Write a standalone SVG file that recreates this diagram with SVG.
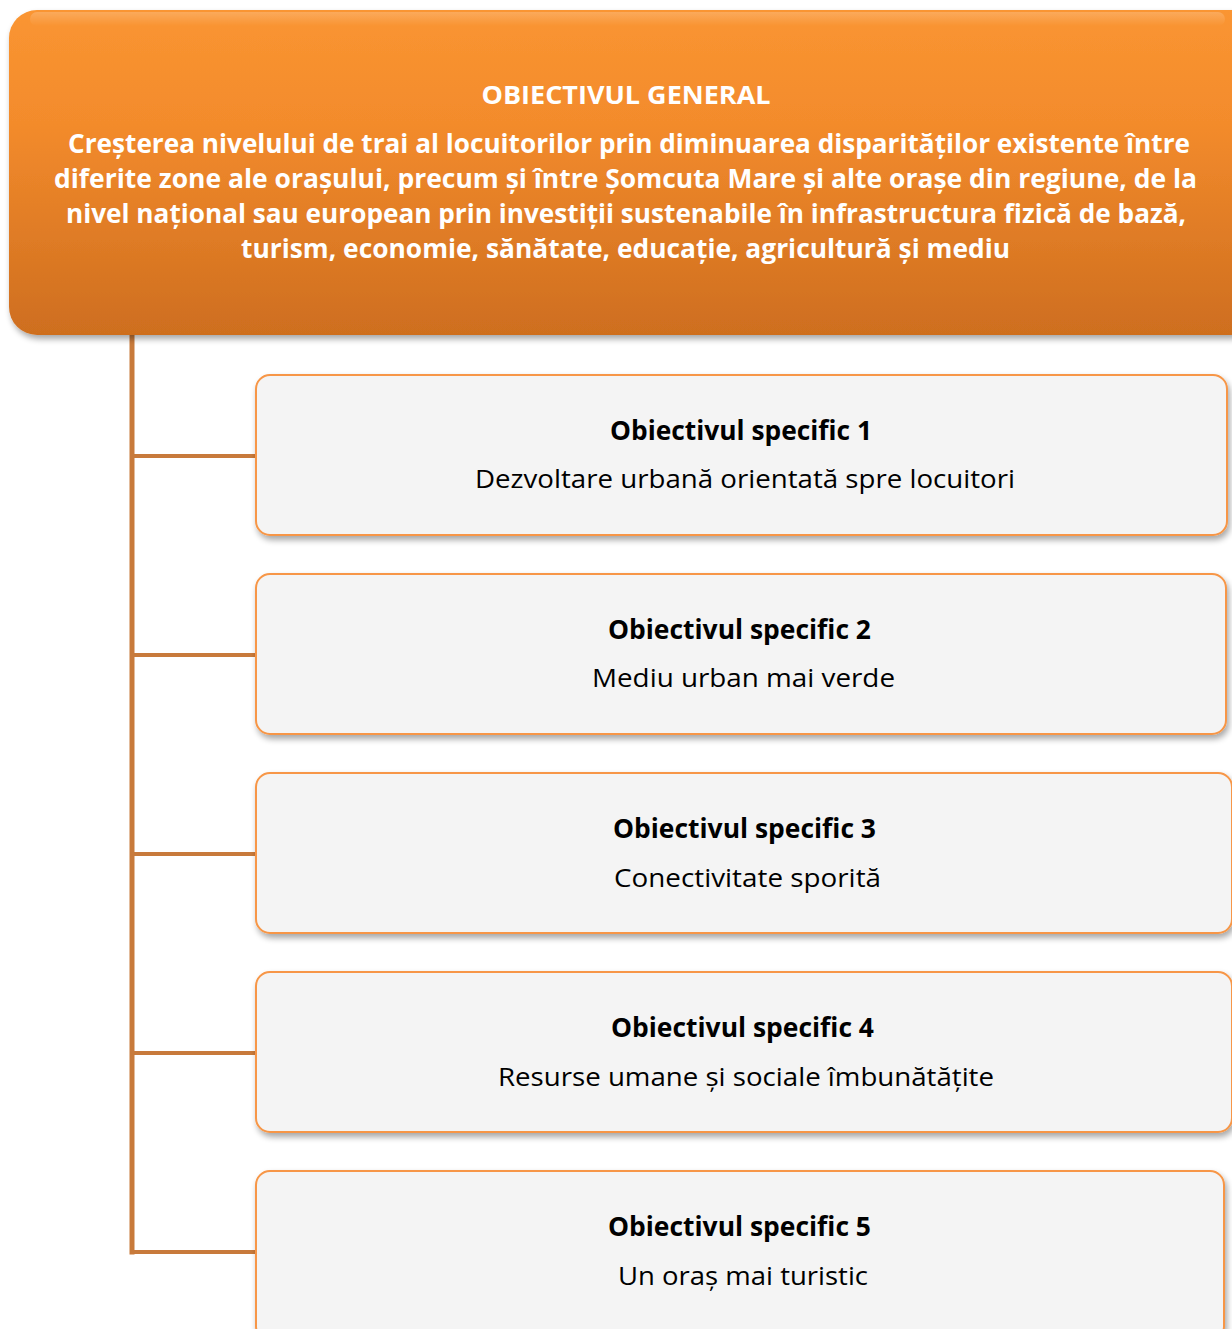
<svg xmlns="http://www.w3.org/2000/svg" width="1232" height="1329" viewBox="0 0 1232 1329">
<defs>
<linearGradient id="og" x1="0" y1="0" x2="0" y2="1">
<stop offset="0" stop-color="#FA9531"/>
<stop offset="0.35" stop-color="#F38B2C"/>
<stop offset="1" stop-color="#CE6E1F"/>
</linearGradient>
<linearGradient id="hl" x1="0" y1="0" x2="0" y2="1">
<stop offset="0" stop-color="#FFFFFF" stop-opacity="0.2"/>
<stop offset="1" stop-color="#FFFFFF" stop-opacity="0"/>
</linearGradient>
<filter id="sh" x="-5%" y="-5%" width="110%" height="120%">
<feGaussianBlur in="SourceAlpha" stdDeviation="3"/>
<feOffset dx="2" dy="4" result="b"/>
<feComponentTransfer><feFuncA type="linear" slope="0.35"/></feComponentTransfer>
<feMerge><feMergeNode/><feMergeNode in="SourceGraphic"/></feMerge>
</filter>
</defs>
<style>
.conn{stroke:#C87A3B;fill:none;stroke-linecap:square}
.child{fill:#F4F4F4;stroke:#F79646;stroke-width:2}
.gt{font-family:"Open Sans","Liberation Sans",sans-serif;font-weight:bold;fill:#FFFFFF;text-anchor:middle}
.ct{font-family:"Open Sans","Liberation Sans",sans-serif;font-weight:bold;fill:#000000;text-anchor:middle;font-size:26px}
.cs{font-family:"Open Sans","Liberation Sans",sans-serif;fill:#000000;text-anchor:middle;font-size:26px}
</style>
<rect width="1232" height="1329" fill="#FFFFFF"/>
<g id="connectors">
<line class="conn" x1="132" y1="336" x2="132" y2="1252" stroke-width="5"/>
<line class="conn" x1="132" y1="456" x2="255" y2="456" stroke-width="4"/>
<line class="conn" x1="132" y1="655" x2="255" y2="655" stroke-width="4"/>
<line class="conn" x1="132" y1="854" x2="255" y2="854" stroke-width="4"/>
<line class="conn" x1="132" y1="1053" x2="255" y2="1053" stroke-width="4"/>
<line class="conn" x1="132" y1="1252" x2="255" y2="1252" stroke-width="4"/>
</g>
<g id="general">
<rect x="9" y="10" width="1250" height="325" rx="28" fill="url(#og)" filter="url(#sh)"/>
<rect x="30" y="12" width="1195" height="14" rx="7" fill="url(#hl)"/>
<text class="gt" x="626" y="104" font-size="25" textLength="289" lengthAdjust="spacingAndGlyphs">OBIECTIVUL GENERAL</text>
<text class="gt" x="629" y="153" font-size="27" textLength="1122" lengthAdjust="spacingAndGlyphs">Creșterea nivelului de trai al locuitorilor prin diminuarea disparităților existente între</text>
<text class="gt" x="625.5" y="188" font-size="27" textLength="1143" lengthAdjust="spacingAndGlyphs">diferite zone ale orașului, precum și între Șomcuta Mare și alte orașe din regiune, de la</text>
<text class="gt" x="626" y="223" font-size="27" textLength="1120" lengthAdjust="spacingAndGlyphs">nivel național sau european prin investiții sustenabile în infrastructura fizică de bază,</text>
<text class="gt" x="625.5" y="258" font-size="27" textLength="769" lengthAdjust="spacingAndGlyphs">turism, economie, sănătate, educație, agricultură și mediu</text>
</g>
<g id="os1">
<rect class="child" x="256" y="375" width="971" height="160" rx="14" filter="url(#sh)"/>
<text class="ct" x="741" y="440" textLength="262" lengthAdjust="spacingAndGlyphs">Obiectivul specific 1</text>
<text class="cs" x="745" y="488" textLength="540" lengthAdjust="spacingAndGlyphs">Dezvoltare urbană orientată spre locuitori</text>
</g>
<g id="os2">
<rect class="child" x="256" y="574" width="970" height="160" rx="14" filter="url(#sh)"/>
<text class="ct" x="739.5" y="639" textLength="263" lengthAdjust="spacingAndGlyphs">Obiectivul specific 2</text>
<text class="cs" x="743.5" y="687" textLength="303" lengthAdjust="spacingAndGlyphs">Mediu urban mai verde</text>
</g>
<g id="os3">
<rect class="child" x="256" y="773" width="976" height="160" rx="14" filter="url(#sh)"/>
<text class="ct" x="744.5" y="838" textLength="263" lengthAdjust="spacingAndGlyphs">Obiectivul specific 3</text>
<text class="cs" x="747.5" y="887" textLength="267" lengthAdjust="spacingAndGlyphs">Conectivitate sporită</text>
</g>
<g id="os4">
<rect class="child" x="256" y="972" width="976" height="160" rx="14" filter="url(#sh)"/>
<text class="ct" x="742.5" y="1037" textLength="263" lengthAdjust="spacingAndGlyphs">Obiectivul specific 4</text>
<text class="cs" x="746" y="1086" textLength="496" lengthAdjust="spacingAndGlyphs">Resurse umane și sociale îmbunătățite</text>
</g>
<g id="os5">
<rect class="child" x="256" y="1171" width="968" height="170" rx="14" filter="url(#sh)"/>
<text class="ct" x="739.5" y="1236" textLength="263" lengthAdjust="spacingAndGlyphs">Obiectivul specific 5</text>
<text class="cs" x="743" y="1285" textLength="250" lengthAdjust="spacingAndGlyphs">Un oraș mai turistic</text>
</g>
</svg>
